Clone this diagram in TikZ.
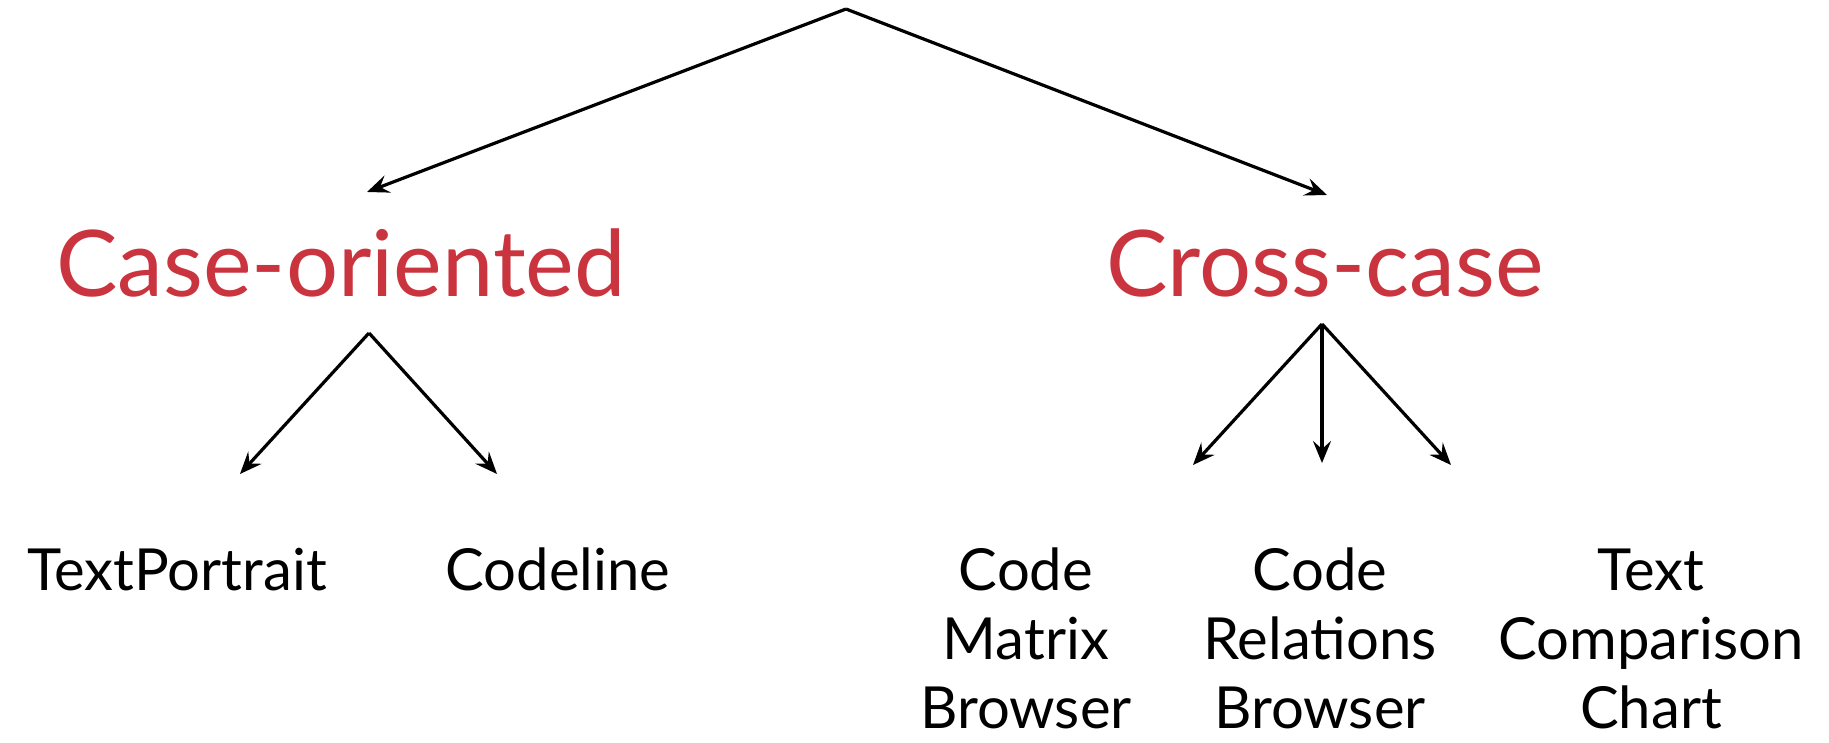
\documentclass[tikz,border=0pt]{standalone}
\usepackage{fontspec}
\setmainfont{Lato}
\usetikzlibrary{arrows.meta}
\definecolor{redtxt}{RGB}{201,52,62}
\begin{document}
\begin{tikzpicture}[x=1pt,y=-1pt,
  conn/.style={line width=3.2pt,-{Stealth[length=22pt,width=18pt,inset=8pt]}},
  cat/.style={text=redtxt,font=\fontsize{92}{100}\selectfont,inner sep=0pt,anchor=base},
  leaf/.style={font=\fontsize{58}{69}\selectfont,inner sep=0pt,anchor=base,align=center}]
\useasboundingbox (0,0) rectangle (1829,743);
\coordinate (root) at (846,9);
\node[cat] (case) at (341,297) {Case-oriented};
\node[cat] (cross) at (1325,297) {Cross-case};
\coordinate (caseIn) at (367,192);
\coordinate (crossIn) at (1327,195);
\coordinate (caseOut) at (369,333);
\coordinate (crossOut) at (1322,324);
\coordinate (tpIn) at (240,474);
\coordinate (clIn) at (497,474);
\coordinate (cmbIn) at (1193,465);
\coordinate (crbIn) at (1322,463);
\coordinate (tccIn) at (1451,465);
\node[leaf] (tp) at (177,590) {TextPortrait};
\node[leaf] (cl) at (558,590) {Codeline};
\node[leaf] (cmb) at (1026,728) {Code\\Matrix\\Browser};
\node[leaf] (crb) at (1320,728) {Code\\Relations\\Browser};
\node[leaf] (tcc) at (1651,728) {Text\\Comparison\\Chart};
\draw[conn] (root) -- (caseIn);
\draw[conn] (root) -- (crossIn);
\draw[conn] (caseOut) -- (tpIn);
\draw[conn] (caseOut) -- (clIn);
\draw[conn] (crossOut) -- (cmbIn);
\draw[conn] (crossOut) -- (crbIn);
\draw[conn] (crossOut) -- (tccIn);
\end{tikzpicture}
\end{document}
